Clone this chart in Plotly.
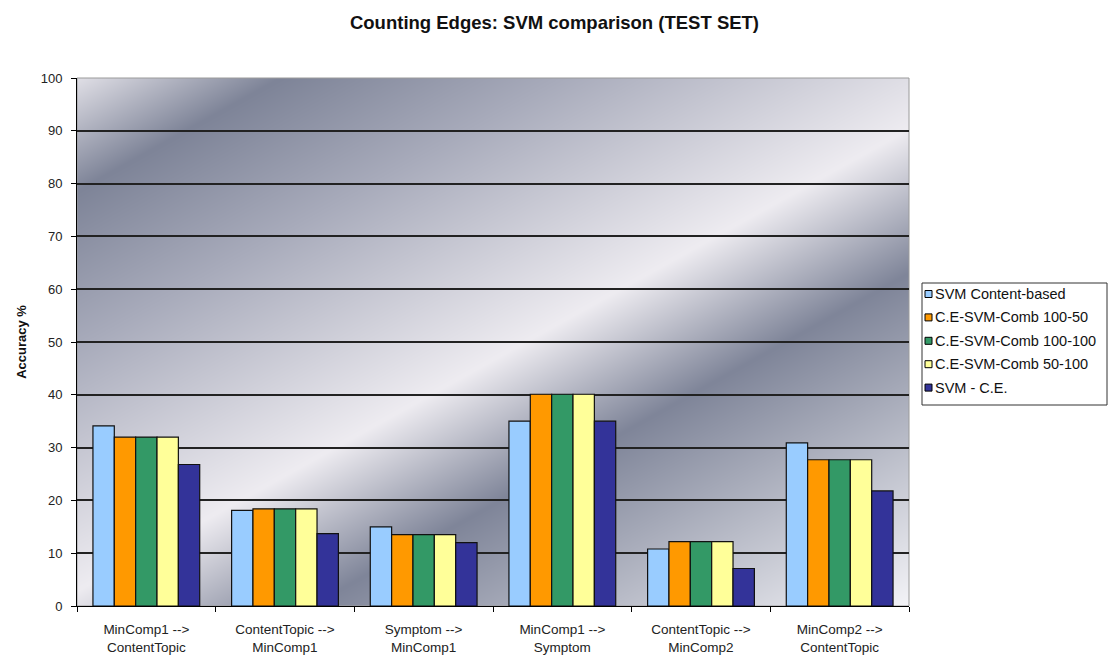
import base64
import struct
import zlib

import numpy as np
import plotly.graph_objects as go

# Data
categories = [
    "MinComp1 --><br>ContentTopic",
    "ContentTopic --><br>MinComp1",
    "Symptom --><br>MinComp1",
    "MinComp1 --><br>Symptom",
    "ContentTopic --><br>MinComp2",
    "MinComp2 --><br>ContentTopic",
]
series_names = [
    "SVM Content-based",
    "C.E-SVM-Comb 100-50",
    "C.E-SVM-Comb 100-100",
    "C.E-SVM-Comb 50-100",
    "SVM - C.E.",
]
svm_content = [34.1, 18.1, 15.0, 35.0, 10.8, 30.9]
comb_100_50 = [32.0, 18.4, 13.5, 40.1, 12.2, 27.7]
comb_100_100 = [32.0, 18.4, 13.5, 40.1, 12.2, 27.7]
comb_50_100 = [32.0, 18.4, 13.5, 40.1, 12.2, 27.7]
svm_ce = [26.8, 13.7, 12.0, 35.0, 7.1, 21.8]
series_values = [svm_content, comb_100_50, comb_100_100, comb_50_100, svm_ce]
colors = ["#99ccff", "#ff9900", "#339966", "#ffff99", "#333399"]
y_ticks = list(range(0, 101, 10))

# Figure geometry (pixels)
W, H = 1109, 657
L, R, T, B = 77, 200, 78, 51
PW, PH = W - L - R, H - T - B


def px_x(px):
    return (px - L) / PW


def px_y(py):
    return (H - B - py) / PH


def metal_background(w, h):
    """Brushed-metal style diagonal gradient as a PNG data URI."""
    ys, xs = np.mgrid[0:h, 0:w].astype(float)
    t = (xs + L) + 1.8 * (ys + T)
    stops = np.array([217, 420, 700, 1140, 1400, 1990], dtype=float)
    cols = np.array([
        [224, 223, 230],
        [126, 132, 152],
        [168, 171, 187],
        [238, 236, 241],
        [127, 133, 153],
        [242, 242, 246],
    ], dtype=float)
    img = np.zeros((h, w, 3))
    for c in range(3):
        img[..., c] = np.interp(t, stops, cols[:, c])
    img = np.clip(img, 0, 255).astype(np.uint8)
    raw = b"".join(b"\x00" + row.tobytes() for row in img)

    def chunk(tag, data):
        return (struct.pack(">I", len(data)) + tag + data
                + struct.pack(">I", zlib.crc32(tag + data) & 0xFFFFFFFF))

    png = (b"\x89PNG\r\n\x1a\n"
           + chunk(b"IHDR", struct.pack(">IIBBBBB", w, h, 8, 2, 0, 0, 0))
           + chunk(b"IDAT", zlib.compress(raw, 9))
           + chunk(b"IEND", b""))
    return "data:image/png;base64," + base64.b64encode(png).decode()


fig = go.Figure()
for name, vals, col in zip(series_names, series_values, colors):
    fig.add_trace(go.Bar(
        x=categories, y=vals, name=name, showlegend=False,
        marker=dict(color=col, line=dict(color="#111111", width=1.2)),
    ))

font_family = "Liberation Sans, Arial, sans-serif"

# Boxed legend to the right of the plot area
legend_left, legend_top, legend_right, legend_bottom = 922, 283, 1107, 405
item_y0, item_step = 294, 23.4
shapes = [
    dict(type="rect", xref="paper", yref="paper", x0=0, y0=0, x1=1, y1=1,
         line=dict(color="#9a9a9a", width=1), layer="below"),
    dict(type="rect", xref="paper", yref="paper",
         x0=px_x(legend_left), x1=px_x(legend_right),
         y0=px_y(legend_bottom), y1=px_y(legend_top),
         line=dict(color="#333333", width=1), fillcolor="white"),
]
annotations = []
for i, (name, col) in enumerate(zip(series_names, colors)):
    cy = item_y0 + i * item_step
    shapes.append(dict(
        type="rect", xref="paper", yref="paper",
        x0=px_x(925), x1=px_x(932), y0=px_y(cy + 3.5), y1=px_y(cy - 3.5),
        line=dict(color="#000000", width=1), fillcolor=col,
    ))
    annotations.append(dict(
        text=name, xref="paper", yref="paper", x=px_x(933), y=px_y(cy),
        xanchor="left", yanchor="middle", showarrow=False,
        font=dict(family=font_family, size=14.5, color="#111111"),
    ))

fig.update_layout(
    width=W, height=H,
    margin=dict(l=L, r=R, t=T, b=B, autoexpand=False),
    paper_bgcolor="white",
    plot_bgcolor="rgba(0,0,0,0)",
    barmode="group",
    bargap=0.23,
    bargroupgap=0,
    showlegend=False,
    font=dict(family=font_family, size=13, color="#222222"),
    title=dict(
        text="<b>Counting Edges: SVM comparison (TEST SET)</b>",
        x=0.5, xanchor="center", y=1 - 23 / H, yanchor="middle",
        font=dict(family=font_family, size=18.5, color="#111111"),
    ),
    xaxis=dict(
        showgrid=False, showline=True, linecolor="#000000", linewidth=1,
        ticks="outside", tickson="boundaries", ticklen=5, tickcolor="#000000",
        tickfont=dict(size=13.5, color="#222222"),
        ticklabelstandoff=11,
    ),
    yaxis=dict(
        range=[0, 100], tickvals=y_ticks, showgrid=True,
        gridcolor="#222222", gridwidth=1.6,
        showline=True, linecolor="#000000", linewidth=1,
        ticks="outside", ticklen=5, tickcolor="#000000",
        tickfont=dict(size=13, color="#222222"),
        ticklabelstandoff=6,
        zeroline=False,
        title=dict(text="<b>Accuracy %</b>", standoff=11,
                   font=dict(size=13, color="#111111")),
    ),
    images=[dict(
        source=metal_background(PW, PH), xref="paper", yref="paper",
        x=0, y=1, sizex=1, sizey=1, sizing="stretch",
        xanchor="left", yanchor="top", layer="below",
    )],
    shapes=shapes,
    annotations=annotations,
)

fig.write_html("out.html")
